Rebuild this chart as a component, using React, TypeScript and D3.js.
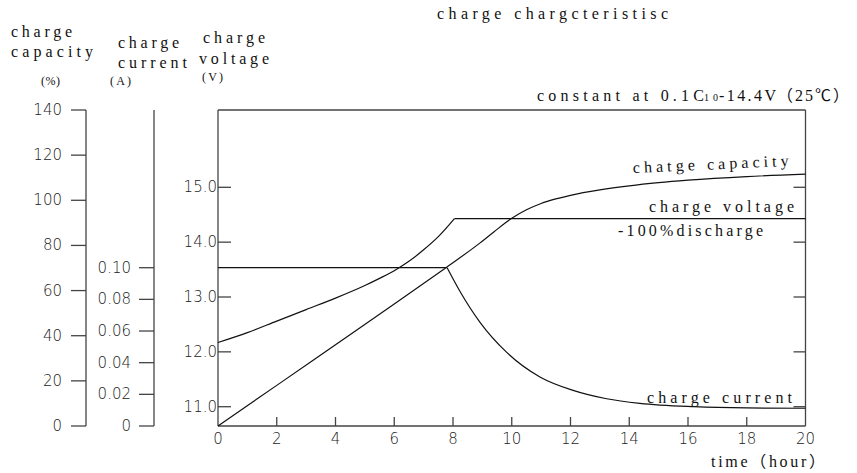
import React from "react";
import * as d3 from "d3";

// ---- data ----
const timeTicks = [0, 2, 4, 6, 8, 10, 12, 14, 16, 18, 20];
const capacityTicks = [0, 20, 40, 60, 80, 100, 120, 140];
const currentTicks = [0, 0.02, 0.04, 0.06, 0.08, 0.1];
const voltageTicks = [11, 12, 13, 14, 15];

const capacityHours = [0, 2, 4, 6, 7.7, 8.9, 9.4, 10, 10.5, 11, 11.5, 12, 13, 14, 15, 16, 18, 20];
const capacityPct = [0, 18, 36, 54, 69.6, 80.9, 86.1, 92, 95.8, 98.6, 100.6, 102.2, 104.6, 106.4, 107.8, 108.9, 110.5, 111.6];

const voltageHours = [0, 1, 2, 3, 4, 5, 5.5, 6, 6.5, 7, 7.5, 8.05, 20];
const voltageValues = [12.17, 12.35, 12.56, 12.77, 12.98, 13.21, 13.34, 13.48, 13.65, 13.86, 14.1, 14.43, 14.43];
const voltageKneeIndex = 11;

const currentHours = [0, 7.8, 8.24, 8.92, 9.83, 10.96, 12.09, 13.23, 14.36, 16.2, 18, 20];
const currentValues = [0.1, 0.1, 0.085, 0.0655, 0.0465, 0.031, 0.0225, 0.0172, 0.0143, 0.0122, 0.0114, 0.0112];
const currentKneeIndex = 1;

const W = 857;
const H = 473;

const x = d3.scaleLinear().domain([0, 20]).range([218, 805.5]);
const yVolt = d3.scaleLinear().domain([11, 15]).range([406.7, 187.3]);
const yCap = d3.scaleLinear().domain([0, 140]).range([426, 110]);
const yCur = d3.scaleLinear().domain([0, 0.1]).range([426, 267.7]);

const plotTop = 110;
const plotBottom = 426;
const capAxisX = 86;
const curAxisX = 154;

const serifFont = "'Liberation Serif', 'Noto Sans CJK SC', serif";
const tickFont = "'DejaVu Sans', sans-serif";
const axisColor = "#444";
const lineColor = "#111";

type P = [number, number];
const zip = (a: number[], b: number[]): P[] => a.map((v, i) => [v, b[i]]);

function Label(props: { x: number; y: number; len: number; size?: number; text: string; transform?: string }) {
  return (
    <text
      x={props.x}
      y={props.y}
      textLength={props.len}
      lengthAdjust="spacing"
      transform={props.transform}
      style={{ fontFamily: serifFont, fontSize: props.size ?? 16, fill: "#111" }}
    >
      {props.text}
    </text>
  );
}

export default function App() {
  const capPts = zip(capacityHours, capacityPct);
  const voltPts = zip(voltageHours, voltageValues);
  const curPts = zip(currentHours, currentValues);

  const capLine = d3
    .line<P>()
    .x((d) => x(d[0]))
    .y((d) => yCap(d[1]))
    .curve(d3.curveMonotoneX);
  const voltCurve = d3
    .line<P>()
    .x((d) => x(d[0]))
    .y((d) => yVolt(d[1]))
    .curve(d3.curveMonotoneX);
  const voltLinear = d3
    .line<P>()
    .x((d) => x(d[0]))
    .y((d) => yVolt(d[1]));
  const curCurve = d3
    .line<P>()
    .x((d) => x(d[0]))
    .y((d) => yCur(d[1]))
    .curve(d3.curveMonotoneX);
  const curLinear = d3
    .line<P>()
    .x((d) => x(d[0]))
    .y((d) => yCur(d[1]));

  const tickStyle = {
    fontFamily: tickFont,
    fontSize: 15,
    fontWeight: 200,
    fill: "#222",
  } as React.CSSProperties;

  return (
    <svg
      width={W}
      height={H}
      style={{ position: "absolute", left: 0, top: 0, background: "#fff" }}
    >
      <rect x={0} y={0} width={W} height={H} fill="#fff" />

      {/* titles */}
      <Label x={437} y={19} len={231} text="charge chargcteristisc" />
      <Label x={537} y={101} len={167} text="constant at 0.1C" />
      <Label x={704} y={101} len={14} size={10} text="10" />
      <Label x={719} y={101} len={57} text="-14.4V" />
      <Label x={777} y={101} len={72} text="（25℃）" />

      {/* left axis titles */}
      <Label x={11} y={37} len={61} text="charge" />
      <Label x={11} y={57} len={82} text="capacity" />
      <Label x={41} y={85} len={19} size={12} text="(%)" />
      <Label x={118} y={48} len={61} text="charge" />
      <Label x={118} y={68} len={69} text="current" />
      <Label x={110} y={85} len={21} size={12} text="(A)" />
      <Label x={203} y={43} len={62} text="charge" />
      <Label x={199} y={64} len={70} text="voltage" />
      <Label x={202} y={81} len={21} size={12} text="(V)" />

      {/* capacity axis */}
      <line x1={capAxisX} x2={capAxisX} y1={yCap(140)} y2={yCap(0)} stroke={axisColor} strokeWidth={1.3} />
      {capacityTicks.map((t) => (
        <g key={"c" + t}>
          <line x1={capAxisX - 15} x2={capAxisX} y1={yCap(t)} y2={yCap(t)} stroke={axisColor} strokeWidth={1.3} />
          <text x={capAxisX - 24} y={yCap(t) + 5} textAnchor="end" style={tickStyle}>
            {t}
          </text>
        </g>
      ))}

      {/* current axis */}
      <line x1={curAxisX} x2={curAxisX} y1={plotTop} y2={plotBottom} stroke={axisColor} strokeWidth={1.3} />
      {currentTicks.map((t) => (
        <g key={"a" + t}>
          <line x1={curAxisX - 15} x2={curAxisX} y1={yCur(t)} y2={yCur(t)} stroke={axisColor} strokeWidth={1.3} />
          <text x={curAxisX - 23} y={yCur(t) + 5} textAnchor="end" style={tickStyle}>
            {t === 0 ? "0" : d3.format(".2f")(t)}
          </text>
        </g>
      ))}

      {/* plot frame */}
      <line x1={x(0)} x2={x(0)} y1={plotTop} y2={plotBottom} stroke={axisColor} strokeWidth={1.3} />
      <line x1={x(20)} x2={x(20)} y1={plotTop} y2={plotBottom} stroke={axisColor} strokeWidth={1.3} />
      <line x1={x(0)} x2={x(20)} y1={plotTop} y2={plotTop} stroke={axisColor} strokeWidth={1.3} />
      <line x1={x(0)} x2={x(20)} y1={plotBottom} y2={plotBottom} stroke={axisColor} strokeWidth={1.3} />

      {/* voltage ticks left & right */}
      {voltageTicks.map((t) => (
        <g key={"v" + t}>
          <line x1={x(0)} x2={x(0) + 13} y1={yVolt(t)} y2={yVolt(t)} stroke={axisColor} strokeWidth={1.3} />
          <line x1={x(20) - 12} x2={x(20)} y1={yVolt(t)} y2={yVolt(t)} stroke={axisColor} strokeWidth={1.3} />
          <text x={x(0) - 1} y={yVolt(t) + 5} textAnchor="end" style={tickStyle}>
            {d3.format(".1f")(t)}
          </text>
        </g>
      ))}

      {/* time ticks */}
      {timeTicks.map((t) => (
        <g key={"t" + t}>
          {t > 0 && t < 20 && (
            <line x1={x(t)} x2={x(t)} y1={plotBottom} y2={plotBottom - 9} stroke={axisColor} strokeWidth={1.3} />
          )}
          <text x={x(t)} y={444} textAnchor="middle" style={tickStyle}>
            {t}
          </text>
        </g>
      ))}
      <Label x={711} y={467} len={114} text="time（hour）" />

      {/* curves */}
      <path d={capLine(capPts) || ""} fill="none" stroke={lineColor} strokeWidth={1.2} />
      <path d={voltCurve(voltPts.slice(0, voltageKneeIndex + 1)) || ""} fill="none" stroke={lineColor} strokeWidth={1.2} />
      <path d={voltLinear(voltPts.slice(voltageKneeIndex)) || ""} fill="none" stroke={lineColor} strokeWidth={1.2} />
      <path d={curLinear(curPts.slice(0, currentKneeIndex + 1)) || ""} fill="none" stroke={lineColor} strokeWidth={1.2} />
      <path d={curCurve(curPts.slice(currentKneeIndex)) || ""} fill="none" stroke={lineColor} strokeWidth={1.2} />

      {/* curve labels */}
      <Label x={633} y={173} len={156} transform="rotate(-2.6 633 173)" text="chatge capacity" />
      <Label x={649} y={212} len={145} text="charge voltage" />
      <Label x={618} y={236} len={145} text="-100%discharge" />
      <Label x={647} y={403} len={145} text="charge current" />
    </svg>
  );
}
